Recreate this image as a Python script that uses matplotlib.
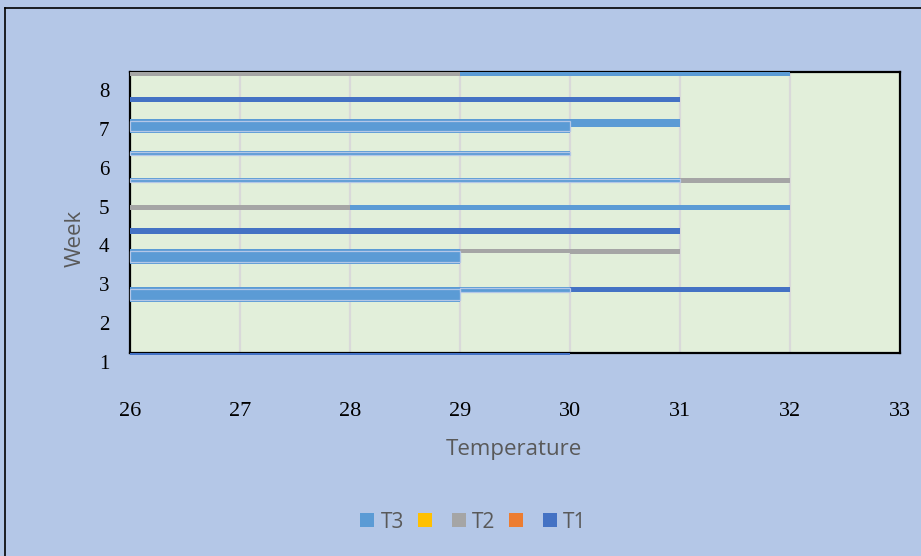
import matplotlib
matplotlib.use("Agg")
import matplotlib.pyplot as plt
from matplotlib.patches import Patch
from matplotlib.transforms import ScaledTranslation

# Week positions, start and end temperatures of each bar segment, per series
t3_week  = [8.18, 6.84, 6.92, 6.13, 5.44, 4.74, 3.48, 2.51, 2.62]
t3_start = [29,   26,   30,   26,   26,   28,   26,   26,   29]
t3_end   = [32,   30,   31,   30,   31,   32,   29,   29,   30]
t3_thick = [0.10, 0.36, 0.21, 0.13, 0.13, 0.13, 0.39, 0.39, 0.16]

t2_week  = [8.18, 5.44, 4.74, 3.62, 3.61]
t2_start = [26,   31,   26,   29,   30]
t2_end   = [29,   32,   28,   30,   31]
t2_thick = [0.10, 0.13, 0.13, 0.10, 0.13]

t1_week  = [7.52, 4.14, 2.63, 0.97]
t1_start = [26,   26,   30,   26]
t1_end   = [31,   31,   32,   30]
t1_thick = [0.14, 0.155, 0.14, 0.06]

series_names = ["T3", "", "T2", "", "T1"]
series_colors = ["#5b9bd5", "#ffc000", "#a5a5a5", "#ed7d31", "#4472c4"]

x_ticks = [26, 27, 28, 29, 30, 31, 32, 33]
y_ticks = [1, 2, 3, 4, 5, 6, 7, 8]

fig_bg = "#b4c7e7"
plot_bg = "#e2efda"
stripe = "#b4c7e7"
title_grey = "#595959"

fig = plt.figure(figsize=(9.21, 5.56), dpi=100, facecolor=fig_bg)
ax = fig.add_axes([130 / 921, 1 - 353 / 556, 770 / 921, 281 / 556])
ax.set_facecolor(plot_bg)
ax.set_xlim(26, 33)
ax.set_ylim(1, 1 + 281 / 38.86)

for x in x_ticks[1:-1]:
    ax.axvline(x, color="#d9d9d9", lw=1.6, zorder=0.5)


def draw(weeks, starts, ends, thick, color, striped=()):
    for i, (w, s, e, h) in enumerate(zip(weeks, starts, ends, thick)):
        ax.barh(w, e - s, left=s, height=h, color=color, lw=0,
                zorder=3, clip_on=False)
        if i in striped:
            # lighter inner outline where overlapping bars meet
            ax.barh(w, e - s, left=s, height=h * 0.72, facecolor="none",
                    edgecolor=stripe, lw=0.9, zorder=3.5, clip_on=False)


draw(t3_week, t3_start, t3_end, t3_thick, series_colors[0],
     striped=(1, 3, 4, 6, 7, 8))
draw(t2_week, t2_start, t2_end, t2_thick, series_colors[2])
draw(t1_week, t1_start, t1_end, t1_thick, series_colors[4])

for sp in ax.spines.values():
    sp.set_color("black")
    sp.set_linewidth(1.6)
    sp.set_zorder(2.5)

ax.set_xticks(x_ticks)
ax.set_yticks(y_ticks)
ax.tick_params(length=0)
ax.set_xticklabels([str(v) for v in x_ticks], fontfamily="Liberation Serif",
                   fontsize=16, color="black")
ax.set_yticklabels([str(v) for v in y_ticks], fontfamily="Liberation Serif",
                   fontsize=15, color="black")
ax.tick_params(axis="x", pad=35)
ax.tick_params(axis="y", pad=15)
shift = ScaledTranslation(0, -9 / 100, fig.dpi_scale_trans)
for lbl in ax.get_yticklabels():
    lbl.set_transform(lbl.get_transform() + shift)

ax.set_xlabel("Temperature", fontfamily="Open Sans", fontsize=16,
              color=title_grey, va="center")
ax.xaxis.set_label_coords((514 - 130) / 770, -(449 - 353) / 281)
ax.set_ylabel("Week", fontfamily="Open Sans", fontsize=16,
              color=title_grey, va="center")
ax.yaxis.set_label_coords((75 - 130) / 770, (353 - 238) / 281)

handles = [Patch(facecolor=c, edgecolor="none") for c in series_colors]
fig.legend(handles, series_names, loc="center",
           bbox_to_anchor=(473.5 / 921, 1 - 522 / 556),
           ncol=5, frameon=False, handlelength=0.67, handleheight=0.67,
           handletextpad=0.29, columnspacing=0.67, borderpad=0,
           prop={"family": "Open Sans", "size": 15}, labelcolor=title_grey)

# outer frame lines along the top and left edges
fig.add_artist(plt.Line2D([5 / 921, 1], [1 - 8 / 556, 1 - 8 / 556],
                          transform=fig.transFigure, color="black", lw=1.2))
fig.add_artist(plt.Line2D([5 / 921, 5 / 921], [0, 1 - 8 / 556],
                          transform=fig.transFigure, color="black", lw=1.2))

fig.savefig("out.png", dpi=100, facecolor=fig_bg)
